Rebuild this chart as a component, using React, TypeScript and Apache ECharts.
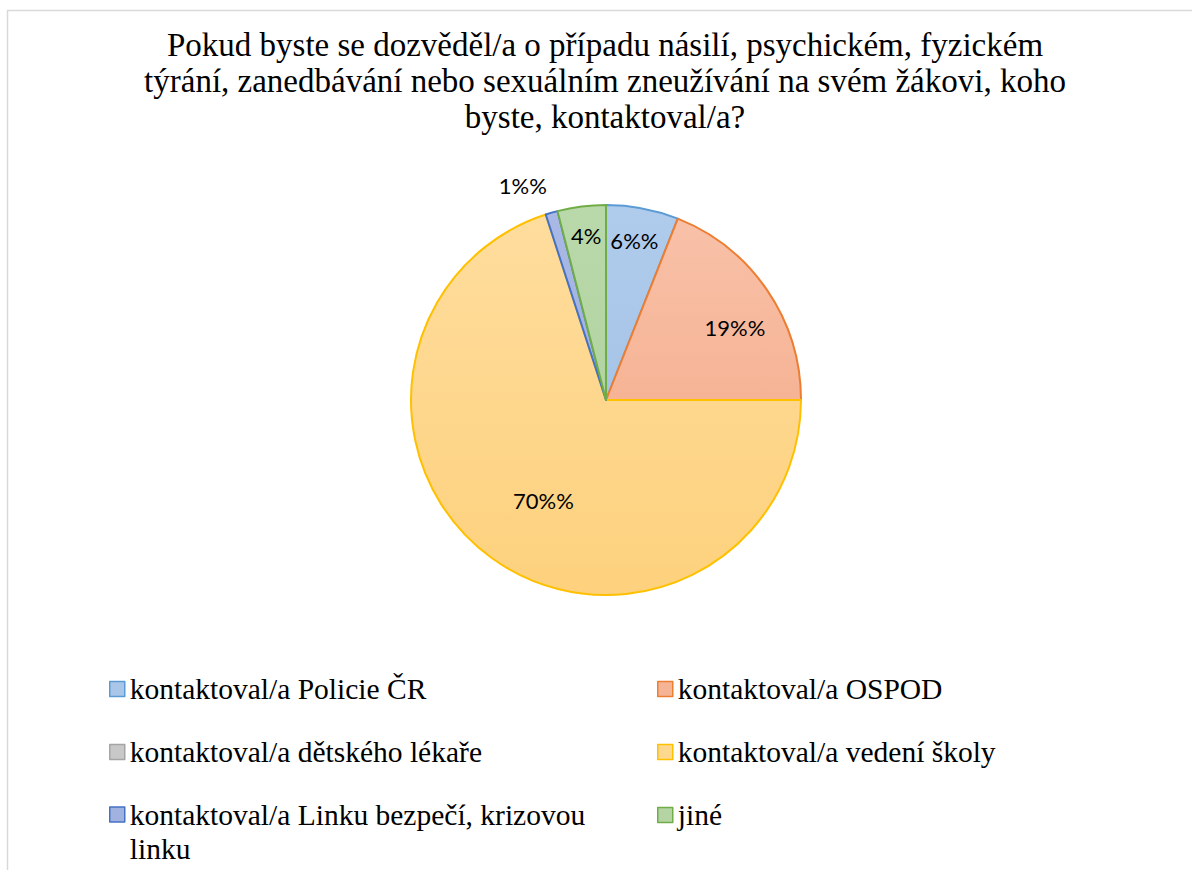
import React, { useEffect, useRef } from "react";
import * as echarts from "echarts";

const titleLines = [
  "Pokud byste se dozvěděl/a o případu násilí, psychickém, fyzickém",
  "týrání, zanedbávání nebo sexuálním zneužívání na svém žákovi, koho",
  "byste, kontaktoval/a?",
];
const categories = [
  "kontaktoval/a Policie ČR",
  "kontaktoval/a OSPOD",
  "kontaktoval/a dětského lékaře",
  "kontaktoval/a vedení školy",
  "kontaktoval/a Linku bezpečí, krizovou linku",
  "jiné",
];
const values = [6, 19, 0, 70, 1, 4];
const labelTexts = ["6%%", "19%%", "", "70%%", "1%%", "4%"];
const fillTop = ["#B0CCEC", "#F8C2AA", "#CFCFCF", "#FFDD9E", "#A9B8E4", "#BAD9AB"];
const fillBottom = ["#9DBCE3", "#F4A580", "#C0C0C0", "#FDD17D", "#9AABDC", "#AACD98"];
const edgeColors = ["#5B9BD5", "#ED7D31", "#A5A5A5", "#FFC000", "#4472C4", "#70AD47"];
const legendFill = ["#A9C6E9", "#F6B497", "#C8C8C8", "#FFD88F", "#A2B2E0", "#B4D4A4"];

const labelRadius = [0.83, 0.76, 0, 0.605, 1.18, 0.85];
const labelAngleShift = [-0.7, 4.7, 0, -4, -5, 0.3];

const CX = 606;
const CY = 400;
const R = 195;

export default function App() {
  const ref = useRef<HTMLDivElement>(null);
  useEffect(() => {
    if (!ref.current) return;
    const chart = echarts.init(ref.current, undefined, { renderer: "svg" });
    const total = values.reduce((a, b) => a + b, 0);
    const midAngles: number[] = [];
    let acc = 0;
    values.forEach((v) => {
      midAngles.push(((acc + v / 2) / total) * 360);
      acc += v;
    });

    const data = categories.map((name, i) => ({
      name,
      value: values[i],
      itemStyle: {
        color: {
          type: "linear",
          x: 0,
          y: CY - R,
          x2: 0,
          y2: CY + R,
          global: true,
          colorStops: [
            { offset: 0, color: fillTop[i] },
            { offset: 1, color: fillBottom[i] },
          ],
        },
        borderColor: edgeColors[i],
        borderWidth: values[i] === 0 ? 0 : 2,
      },
      label: { show: values[i] !== 0 },
    }));

    const legendItem = (i: number) => ({
      name: categories[i],
      itemStyle: { color: legendFill[i], borderColor: edgeColors[i], borderWidth: 1.5 },
    });
    const legendText = {
      fontFamily: "'Liberation Serif', 'Times New Roman', serif",
      fontSize: 29.5,
      color: "#000",
      lineHeight: 36,
    };
    const legendBase = {
      orient: "vertical",
      icon: "rect",
      itemWidth: 15,
      itemHeight: 15,
      itemGap: 27,
      padding: 0,
      selectedMode: false,
      textStyle: legendText,
    };

    chart.setOption({
      animation: false,
      backgroundColor: "#fff",
      title: {
        text: titleLines.join("\n"),
        left: 605,
        top: 27,
        padding: 0,
        textAlign: "center",
        textStyle: {
          fontFamily: "'Liberation Serif', 'Times New Roman', serif",
          fontSize: 33,
          fontWeight: "normal",
          color: "#000",
          lineHeight: 36,
        },
      },
      graphic: [
        {
          type: "rect",
          shape: { x: 7.5, y: 10.5, width: 1300, height: 1000 },
          style: { fill: "none", stroke: "#D9D9D9", lineWidth: 1.5 },
          silent: true,
        },
      ],
      legend: [
        { ...legendBase, left: 109, top: 671, data: [legendItem(0), legendItem(2)] },
        { ...legendBase, left: 657, top: 671, data: [legendItem(1), legendItem(3), legendItem(5)] },
        {
          ...legendBase,
          left: 109,
          top: 763.5,
          data: [legendItem(4)],
          formatter: () => "\nkontaktoval/a Linku bezpečí, krizovou\nlinku",
          textStyle: { ...legendText, lineHeight: 34 },
        },
      ],
      series: [
        {
          type: "pie",
          center: [CX, CY],
          radius: R,
          startAngle: 90,
          clockwise: true,
          data,
          label: {
            position: "inside",
            formatter: (p: any) => labelTexts[p.dataIndex],
            fontFamily: "Lato, 'Open Sans', sans-serif",
            fontSize: 22,
            color: "#000",
          },
          labelLine: { show: false },
          labelLayout: (p: any) => {
            const i = p.dataIndex;
            const a = ((midAngles[i] + labelAngleShift[i]) * Math.PI) / 180;
            const r = R * labelRadius[i];
            return { x: CX + r * Math.sin(a), y: CY - r * Math.cos(a) };
          },
          emphasis: { disabled: true },
        },
      ],
    });
    return () => chart.dispose();
  }, []);
  return (
    <div
      ref={ref}
      style={{ position: "fixed", left: 0, top: 0, width: 1192, height: 870 }}
    />
  );
}
